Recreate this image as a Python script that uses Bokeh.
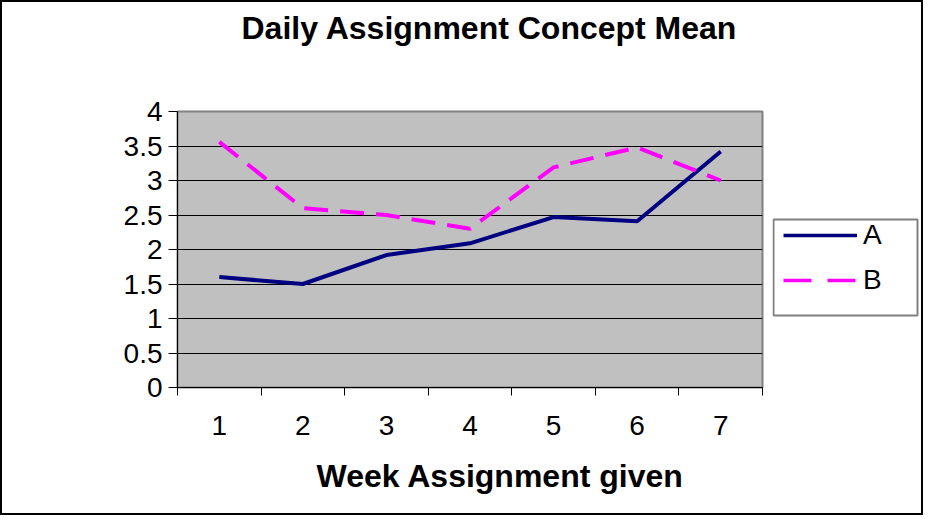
from bokeh.plotting import figure
from bokeh.layouts import row
from bokeh.models import FixedTicker, Range1d, Legend, LegendItem, Title, BoxAnnotation
from bokeh.embed import file_html
from bokeh.resources import INLINE

# ---- data ----
weeks = ["1", "2", "3", "4", "5", "6", "7"]
week_pos = [1, 2, 3, 4, 5, 6, 7]
series_a = [1.6, 1.5, 1.92, 2.09, 2.47, 2.41, 3.42]
series_b = [3.56, 2.6, 2.5, 2.3, 3.19, 3.48, 3.0]
y_ticks = [0, 0.5, 1, 1.5, 2, 2.5, 3, 3.5, 4]
y_tick_labels = ["0", "0.5", "1", "1.5", "2", "2.5", "3", "3.5", "4"]
title_text = "Daily Assignment Concept Mean"
x_title_text = "Week Assignment given"
legend_names = ["A", "B"]

COLOR_A = "#000080"
COLOR_B = "#ff00ff"
DASH_B = "24 12"
FONT = "Liberation Sans"

# ---- layout (pixels inside the bordered row) ----
BORDER = 2
H = 511
W_MAIN, W_LEG = 770, 149
F_LEFT, F_RIGHT, F_TOP, F_BOTTOM = 175, 760, 109, 385

p = figure(width=W_MAIN, height=H, output_backend="svg", toolbar_location=None,
           x_range=Range1d(0.5, 7.5), y_range=Range1d(0, 4),
           min_border_left=F_LEFT, min_border_right=W_MAIN - F_RIGHT,
           min_border_top=F_TOP, min_border_bottom=H - F_BOTTOM)

p.background_fill_color = "#c0c0c0"
p.border_fill_color = "white"
p.outline_line_color = "#808080"
p.outline_line_width = 2

p.xgrid.grid_line_color = None
p.ygrid.ticker = FixedTicker(ticks=y_ticks)
p.ygrid.grid_line_color = "#000000"
p.ygrid.grid_line_width = 1

# real title (outermost) with an empty spacer title between it and the frame
p.title.text = title_text
p.title.align = "left"
p.title.offset = 64
p.title.text_font = FONT
p.title.text_font_style = "bold"
p.title.text_font_size = "32px"
p.title.text_color = "black"
p.title.standoff = 4
spacer = Title(text=" ", text_font_size="2px", standoff=60)
p.add_layout(spacer, "above")

# y axis
p.yaxis.ticker = FixedTicker(ticks=y_ticks)
p.yaxis.major_label_overrides = {t: l for t, l in zip(y_ticks, y_tick_labels)}
p.yaxis.axis_line_color = "black"
p.yaxis.major_tick_in = 0
p.yaxis.major_tick_out = 9
p.yaxis.minor_tick_line_color = None
p.yaxis.major_label_text_font = FONT
p.yaxis.major_label_text_font_size = "28px"
p.yaxis.major_label_text_color = "black"
p.yaxis.major_label_standoff = 6

# x axis
p.xaxis.ticker = FixedTicker(ticks=week_pos,
                             minor_ticks=[w - 0.5 for w in week_pos] + [week_pos[-1] + 0.5])
p.xaxis.major_label_overrides = {t: l for t, l in zip(week_pos, weeks)}
p.xaxis.axis_line_color = "black"
p.xaxis.major_tick_line_color = None
p.xaxis.minor_tick_in = 0
p.xaxis.minor_tick_out = 8
p.xaxis.minor_tick_line_color = "black"
p.xaxis.major_label_text_font = FONT
p.xaxis.major_label_text_font_size = "28px"
p.xaxis.major_label_text_color = "black"
p.xaxis.major_label_standoff = 20

# x axis title below the axis
xt = Title(text=x_title_text, align="left", offset=139, text_font=FONT,
           text_font_style="bold", text_font_size="32px", text_color="black",
           standoff=36)
p.add_layout(xt, "below")

# series
p.line(week_pos, series_a, line_color=COLOR_A, line_width=4)
p.line(week_pos, series_b, line_color=COLOR_B, line_width=4, line_dash=DASH_B)

# ---- legend strip (its frame is aligned with the main frame by the row) ----
q = figure(width=W_LEG, height=H, output_backend="svg", toolbar_location=None,
           x_range=Range1d(0, W_LEG), y_range=Range1d(H - F_BOTTOM, H - F_TOP),
           x_axis_type=None, y_axis_type=None,
           min_border_left=0, min_border_right=0,
           min_border_top=F_TOP, min_border_bottom=H - F_BOTTOM)
q.outline_line_color = None
q.background_fill_color = "white"
q.border_fill_color = "white"
q.grid.visible = False

# legend frame (pixels inside the strip, y measured from the bottom of the strip)
q.add_layout(BoxAnnotation(left=1, right=145, bottom=H - 313, top=H - 217,
                           fill_color="white", fill_alpha=1.0,
                           line_color="#808080", line_alpha=1.0, line_width=2))

la = q.line(week_pos, series_a, line_color=COLOR_A, line_width=3.5, visible=False)
lb = q.line(week_pos, series_b, line_color=COLOR_B, line_width=3.5,
            line_dash="28 16", visible=False)
legend = Legend(items=[LegendItem(label=legend_names[0], renderers=[la]),
                       LegendItem(label=legend_names[1], renderers=[lb])],
                location=(11, 90), margin=0, padding=10, spacing=11,
                glyph_width=74, glyph_height=34, label_height=34,
                label_standoff=6, label_text_font=FONT, label_text_font_size="28px",
                label_text_color="black", border_line_color=None,
                background_fill_alpha=0.0, click_policy="none")
q.add_layout(legend, "center")

layout = row(p, q, styles={"border": f"{BORDER}px solid black"})

open("out.html", "w").write(file_html(layout, INLINE))
